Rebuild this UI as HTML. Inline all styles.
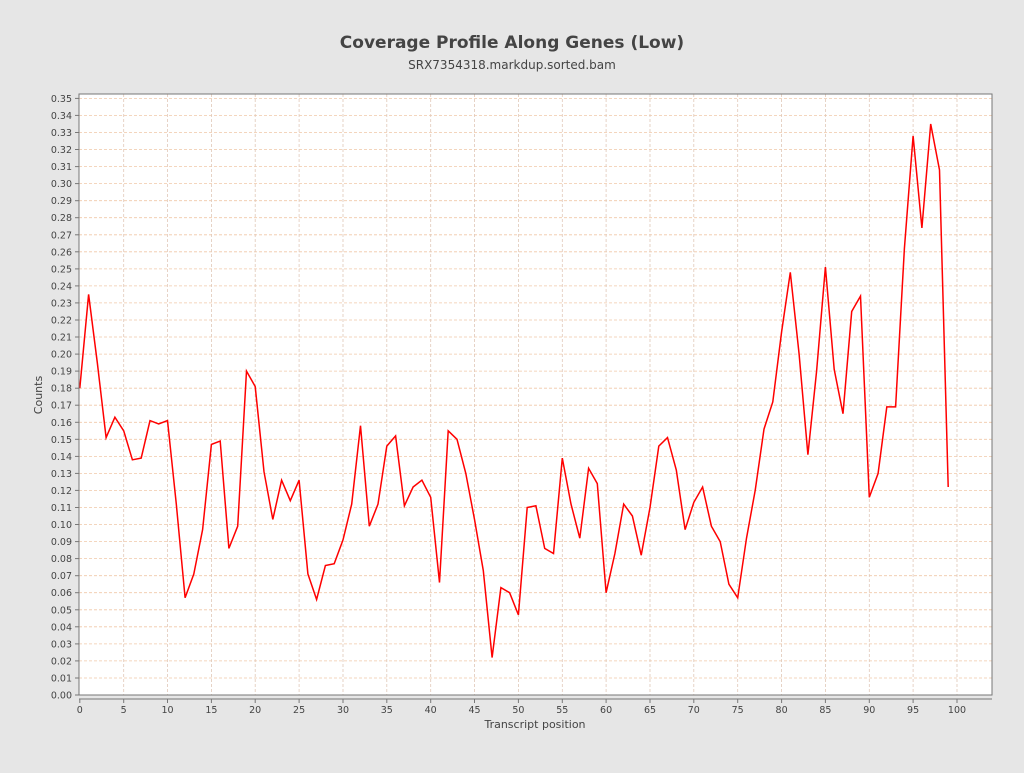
<!DOCTYPE html>
<html><head><meta charset="utf-8"><style>
body{margin:0;background:#e6e6e6;width:1024px;height:768px;overflow:hidden;font-family:"Liberation Sans","DejaVu Sans",sans-serif}
</style></head><body>
<svg id="s" width="1024" height="768" xmlns="http://www.w3.org/2000/svg" font-family="DejaVu Sans, Liberation Sans, sans-serif">
<rect width="1024" height="768" fill="#e6e6e6"/>
<text x="512" y="48" text-anchor="middle" font-size="17" font-weight="bold" fill="#444">Coverage Profile Along Genes (Low)</text>
<text x="512" y="69" text-anchor="middle" font-size="12" fill="#444">SRX7354318.markdup.sorted.bam</text>
<rect x="79" y="94" width="913" height="601" fill="#fff"/>
<g id="g"></g>
<rect x="79" y="94" width="913" height="601" fill="none" stroke="#777" stroke-width="1"/>
<text x="535" y="728" text-anchor="middle" font-size="11" fill="#444">Transcript position</text>
<text transform="translate(42,395) rotate(-90)" text-anchor="middle" font-size="11" fill="#444">Counts</text>
</svg>
<script>
var d=[0.18,0.235,0.195,0.151,0.163,0.155,0.138,0.139,0.161,0.159,0.161,0.112,0.057,0.071,0.097,0.147,0.149,0.086,0.099,0.190,0.181,0.131,0.103,0.126,0.114,0.126,0.071,0.056,0.076,0.077,0.091,0.112,0.158,0.099,0.112,0.146,0.152,0.111,0.122,0.126,0.116,0.066,0.155,0.150,0.130,0.103,0.073,0.022,0.063,0.060,0.047,0.110,0.111,0.086,0.083,0.139,0.112,0.092,0.133,0.124,0.060,0.083,0.112,0.105,0.082,0.110,0.146,0.151,0.132,0.097,0.113,0.122,0.099,0.090,0.065,0.057,0.092,0.120,0.156,0.172,0.213,0.248,0.200,0.141,0.190,0.251,0.191,0.165,0.225,0.234,0.116,0.130,0.169,0.169,0.262,0.328,0.274,0.335,0.308,0.122];
function X(v){return 79.8+v*8.772}function Y(v){return 695-v*1704.6}
var h='';
for(var i=0;i<=35;i++){var y=Y(i/100).toFixed(1);
h+='<line x1="79" x2="992" y1="'+y+'" y2="'+y+'" stroke="#f0c8a8" stroke-dasharray="3,2" stroke-width="0.8"/>';
h+='<line x1="75" x2="79" y1="'+y+'" y2="'+y+'" stroke="#777"/>';
h+='<text x="72" y="'+(+y+3.5)+'" text-anchor="end" font-size="9.5" fill="#444">'+(i/100).toFixed(2)+'</text>';}
for(var i=0;i<=100;i+=5){var x=X(i).toFixed(1);
if(i>0)h+='<line y1="94" y2="695" x1="'+x+'" x2="'+x+'" stroke="#e0c8b8" stroke-dasharray="3,2" stroke-width="0.8"/>';
h+='<line y1="699" y2="703" x1="'+x+'" x2="'+x+'" stroke="#777"/>';
h+='<text x="'+x+'" y="713" text-anchor="middle" font-size="9.5" fill="#444">'+i+'</text>';}
h+='<line x1="79" x2="992" y1="699" y2="699" stroke="#777"/>';
var p=d.map(function(v,i){return X(i).toFixed(1)+','+Y(v).toFixed(1)}).join(' ');
h+='<polyline points="'+p+'" fill="none" stroke="#f00" stroke-width="1.5"/>';
document.getElementById('g').innerHTML=h;
</script>
</body></html>
